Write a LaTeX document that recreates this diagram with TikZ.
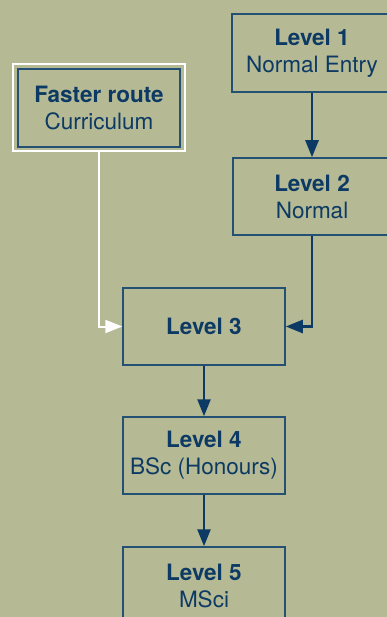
\documentclass[tikz,border=0pt]{standalone}
\usepackage{fontspec}
\setmainfont{TeX Gyre Heros}
\usepackage{xcolor}
\usepackage{tikz}
\usetikzlibrary{arrows.meta}
\pgfdeclarelayer{bglayer}
\pgfdeclarelayer{nodelayer}
\pgfdeclarelayer{edgelayer}
\pgfsetlayers{bglayer,nodelayer,edgelayer,main}
\definecolor{bgkhaki}{RGB}{181,185,148}
\definecolor{navytext}{RGB}{12,58,100}
\definecolor{navyline}{RGB}{35,80,115}
\tikzset{
  levelbox/.style={draw=navyline, line width=1.5pt, text=navytext, align=center,
    minimum width=162pt, minimum height=77pt, inner sep=0pt,
    font=\fontsize{22.5}{27}\selectfont},
  flow/.style={navytext, line width=2.5pt, -{Triangle[length=17pt,width=13pt]}},
  fastflow/.style={white, line width=2pt, -{Triangle[length=17pt,width=13pt]}},
}
\begin{document}
\begin{tikzpicture}[x=1pt, y=-1pt]
  \clip (0, 0) rectangle (387, 617);
  \begin{pgfonlayer}{bglayer}
    \fill [bgkhaki] (0, 0) rectangle (387, 617);
  \end{pgfonlayer}
  \begin{pgfonlayer}{nodelayer}
    \node [levelbox, minimum width=160pt, minimum height=78pt] (0) at (312, 53) {\textbf{Level 1}\\Normal Entry};
    \node [levelbox, minimum width=158pt] (1) at (312, 196.5) {\textbf{Level 2}\\Normal};
    \node [draw=white, line width=1.5pt, minimum width=172pt, minimum height=87pt] (2) at (99, 107.5) {};
    \node [levelbox, minimum height=78pt] (3) at (99, 108) {\textbf{Faster route}\\Curriculum};
    \node [levelbox] (4) at (204, 326.5) {\textbf{Level 3}};
    \node [levelbox] (5) at (204, 455.5) {\textbf{Level 4}\\BSc (Honours)};
    \node [levelbox] (6) at (204, 585.5) {\textbf{Level 5}\\MSci};
  \end{pgfonlayer}
  \begin{pgfonlayer}{edgelayer}
    \draw [flow] (0.south) to (1.north);
    \draw [flow] (1.south) |- (4.east);
    \draw [fastflow] (2.south) |- (4.west);
    \draw [flow] (4.south) to (5.north);
    \draw [flow] (5.south) to (6.north);
  \end{pgfonlayer}
\end{tikzpicture}
\end{document}
